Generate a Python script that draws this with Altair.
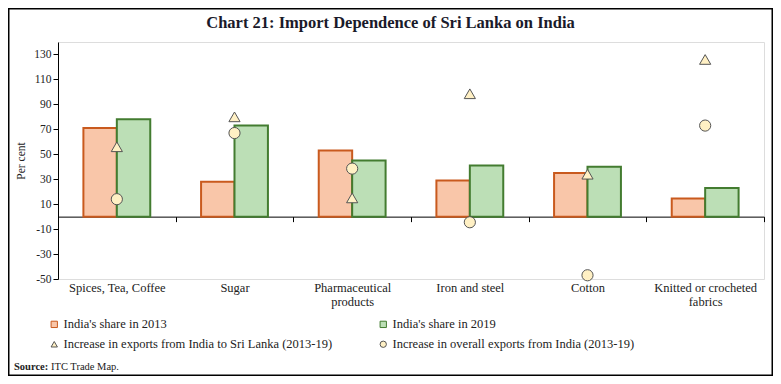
import altair as alt
import pandas as pd

categories = ["Spices, Tea, Coffee", "Sugar", "Pharmaceutical products",
              "Iron and steel", "Cotton", "Knitted or crocheted fabrics"]
share_2013 = [71, 28, 53, 29, 35, 14.5]
share_2019 = [78, 73, 45, 41, 40, 23]
exports_to_sl = [56, 80, 15, 98.5, 34, 126]
exports_overall = [14, 67, 38.5, -4.5, -47, 73]
y_ticks = [-50, -30, -10, 10, 30, 50, 70, 90, 110, 130]

s2013 = "India's share in 2013"
s2019 = "India's share in 2019"
s_sl = "Increase in exports from India to Sri Lanka (2013-19)"
s_all = "Increase in overall exports from India (2013-19)"
# legend order (column-major, 2 columns): 2013, exports to SL | 2019, overall
series_names = [s2013, s_sl, s2019, s_all]
fill_colors = ["#F9C6A9", "#FFF0C4", "#BCDFB6", "#FFF0C4"]
stroke_colors = ["#C95A1E", "#555555", "#437C30", "#555555"]
shapes = ["square", "triangle-up", "square", "circle"]

bars = pd.DataFrame({
    "category": categories * 2,
    "series": [s2013] * 6 + [s2019] * 6,
    "value": share_2013 + share_2019,
})
points = pd.DataFrame({
    "category": categories * 2,
    "series": [s_sl] * 6 + [s_all] * 6,
    "value": exports_to_sl + exports_overall,
})

FONT = "Liberation Serif"
W, H = 706, 237
YMIN, YMAX = -50, 140
zero_offset = -(H * (0 - YMIN) / (YMAX - YMIN))

label_expr = ("datum.label == 'Pharmaceutical products' ? ['Pharmaceutical', 'products'] : "
              "datum.label == 'Knitted or crocheted fabrics' ? ['Knitted or crocheted', 'fabrics'] : datum.label")

x_enc = alt.X("category:N", sort=categories,
              scale=alt.Scale(paddingInner=0, paddingOuter=0),
              axis=alt.Axis(title=None, labelAngle=0, offset=zero_offset,
                            tickBand="extent", tickSize=5, tickColor="black",
                            domainColor="black", labelPadding=60,
                            labelFontSize=12.5, labelLineHeight=14,
                            labelExpr=label_expr, labelColor="#222"))
y_axis = alt.Axis(title="Per cent", values=y_ticks, tickCount=20,
                  grid=False, tickSize=5, tickColor="black",
                  domainColor="black", labelFontSize=11.5,
                  labelExpr="'' + datum.value",
                  labelOverlap=False, labelColor="#222",
                  titleFontSize=11.5, titleFontWeight="normal",
                  titlePadding=7, titleColor="#222")
y_scale = alt.Scale(domain=[YMIN, YMAX], nice=False, zero=False)

fill_scale = alt.Scale(domain=series_names, range=fill_colors)
stroke_scale = alt.Scale(domain=series_names, range=stroke_colors)
shape_scale = alt.Scale(domain=series_names, range=shapes)
legend = alt.Legend(title=None, orient="none", legendX=-10, legendY=276,
                    columns=2, columnPadding=44, rowPadding=7,
                    labelFontSize=12.5, labelColor="#222", symbolSize=40,
                    symbolStrokeWidth=1, labelOffset=3, labelLimit=400)

bar_layer = alt.Chart(bars).mark_bar(strokeWidth=2).encode(
    x=x_enc,
    xOffset=alt.XOffset("series:N", sort=[s2013, s2019],
                        scale=alt.Scale(paddingOuter=0.76, paddingInner=0)),
    y=alt.Y("value:Q", scale=y_scale, axis=y_axis),
    y2=alt.datum(0),
    fill=alt.Fill("series:N", scale=fill_scale, legend=legend),
    stroke=alt.Stroke("series:N", scale=stroke_scale, legend=legend),
)

point_layer = alt.Chart(points).mark_point(filled=True, size=125, strokeWidth=1,
                                           opacity=1).encode(
    x=alt.X("category:N", sort=categories),
    y=alt.Y("value:Q", scale=y_scale, axis=y_axis),
    fill=alt.Fill("series:N", scale=fill_scale, legend=legend),
    stroke=alt.Stroke("series:N", scale=stroke_scale, legend=legend),
    shape=alt.Shape("series:N", scale=shape_scale, legend=legend),
)

one = pd.DataFrame({"a": [0]})
title_layer = alt.Chart(one).mark_text(
    text="Chart 21: Import Dependence of Sri Lanka on India",
    font=FONT, fontSize=16.5, fontWeight="bold", color="#1a1a2a",
    align="center", baseline="middle").encode(x=alt.value(332.5), y=alt.value(-19))
source_bold = alt.Chart(one).mark_text(
    text="Source:", font=FONT, fontSize=10.5, fontWeight="bold", color="#222",
    align="left", baseline="middle").encode(x=alt.value(-44), y=alt.value(325))
source_text = alt.Chart(one).mark_text(
    text="ITC Trade Map.", font=FONT, fontSize=10.5, color="#222",
    align="left", baseline="middle").encode(x=alt.value(-7), y=alt.value(325))
frame = alt.Chart(one).mark_rect(fill=None, stroke="black", strokeWidth=1.5).encode(
    x=alt.value(-49.25), x2=alt.value(714.25), y=alt.value(-33.25), y2=alt.value(333.25))

chart = alt.layer(bar_layer, point_layer, title_layer, source_bold, source_text, frame).properties(
    width=W, height=H,
    autosize=alt.AutoSizeParams(type="none"),
    padding={"left": 50, "top": 34, "right": 9, "bottom": 97},
).configure_view(stroke=None).configure(font=FONT)

chart.save("out.html", embed_options={"renderer": "svg", "actions": False})
